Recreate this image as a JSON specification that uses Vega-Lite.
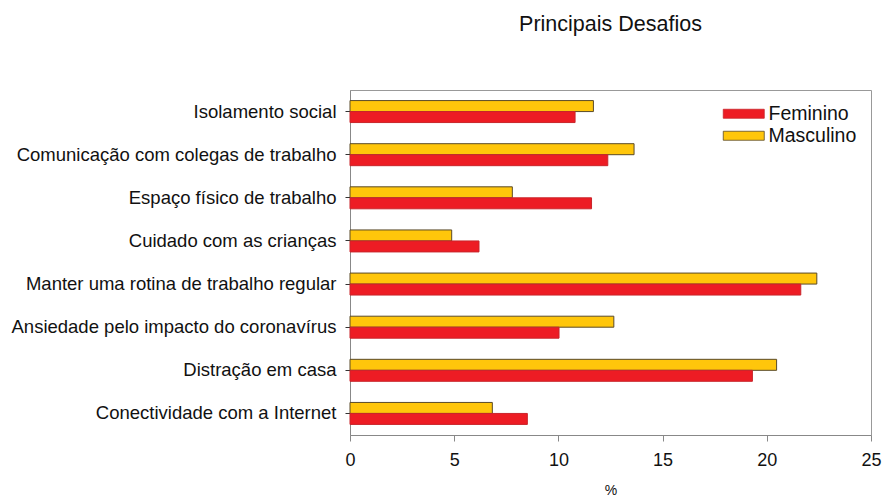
{
  "$schema": "https://vega.github.io/schema/vega-lite/v6.json",
  "autosize": "none",
  "width": 521,
  "height": 345,
  "padding": {"left": 350, "top": 90, "right": 12, "bottom": 64},
  "background": "white",
  "title": {
    "text": "Principais Desafios",
    "font": "Liberation Sans",
    "fontSize": 21.5,
    "fontWeight": "normal",
    "color": "#111",
    "anchor": "middle",
    "frame": "group",
    "offset": 55
  },
  "data": {
    "values": [
      {"desafio": "Isolamento social", "genero": "Masculino", "pct": 11.68},
      {"desafio": "Isolamento social", "genero": "Feminino", "pct": 10.8},
      {"desafio": "Comunicação com colegas de trabalho", "genero": "Masculino", "pct": 13.63},
      {"desafio": "Comunicação com colegas de trabalho", "genero": "Feminino", "pct": 12.37},
      {"desafio": "Espaço físico de trabalho", "genero": "Masculino", "pct": 7.79},
      {"desafio": "Espaço físico de trabalho", "genero": "Feminino", "pct": 11.59},
      {"desafio": "Cuidado com as crianças", "genero": "Masculino", "pct": 4.88},
      {"desafio": "Cuidado com as crianças", "genero": "Feminino", "pct": 6.19},
      {"desafio": "Manter uma rotina de trabalho regular", "genero": "Masculino", "pct": 22.4},
      {"desafio": "Manter uma rotina de trabalho regular", "genero": "Feminino", "pct": 21.63},
      {"desafio": "Ansiedade pelo impacto do coronavírus", "genero": "Masculino", "pct": 12.66},
      {"desafio": "Ansiedade pelo impacto do coronavírus", "genero": "Feminino", "pct": 10.03},
      {"desafio": "Distração em casa", "genero": "Masculino", "pct": 20.47},
      {"desafio": "Distração em casa", "genero": "Feminino", "pct": 19.31},
      {"desafio": "Conectividade com a Internet", "genero": "Masculino", "pct": 6.83},
      {"desafio": "Conectividade com a Internet", "genero": "Feminino", "pct": 8.51}
    ]
  },
  "mark": {"type": "bar", "strokeWidth": 1},
  "encoding": {
    "y": {
      "field": "desafio",
      "type": "nominal",
      "sort": null,
      "scale": {"paddingInner": 0.49, "paddingOuter": 0.245},
      "axis": {
        "title": null,
        "labelFont": "Liberation Sans",
        "labelFontSize": 18.5,
        "labelColor": "#111",
        "labelPadding": 9,
        "tickSize": 5,
        "tickColor": "#333",
        "domainColor": "#888",
        "labelLimit": 400
      }
    },
    "yOffset": {
      "field": "genero",
      "type": "nominal",
      "sort": ["Masculino", "Feminino"],
      "scale": {"paddingInner": 0, "paddingOuter": 0}
    },
    "x": {
      "field": "pct",
      "type": "quantitative",
      "scale": {"domain": [0, 25], "nice": false},
      "axis": {
        "title": "%",
        "titleFont": "Liberation Sans",
        "titleFontSize": 14,
        "titleFontWeight": "normal",
        "titleColor": "#111",
        "titlePadding": 14,
        "values": [0, 5, 10, 15, 20, 25],
        "grid": false,
        "labelFont": "Liberation Sans",
        "labelFontSize": 18,
        "labelColor": "#111",
        "labelPadding": 10,
        "tickSize": 6,
        "tickColor": "#888",
        "domainColor": "#888",
        "labelFlush": false
      }
    },
    "color": {
      "field": "genero",
      "type": "nominal",
      "scale": {"domain": ["Feminino", "Masculino"], "range": ["#ED1C24", "#FFC60B"]},
      "legend": {
        "title": null,
        "orient": "none",
        "legendX": 384,
        "legendY": 14,
        "symbolType": "M-4.1,-0.9H4.1V0.9H-4.1Z",
        "symbolSize": 100,
        "symbolStrokeWidth": 0.8,
        "symbolStrokeColor": "#7a6a50",
        "labelFont": "Liberation Sans",
        "labelFontSize": 19.5,
        "labelColor": "#111",
        "labelOffset": 15,
        "rowPadding": 1
      }
    },
    "stroke": {
      "field": "genero",
      "type": "nominal",
      "scale": {"domain": ["Feminino", "Masculino"], "range": ["#c9252b", "#5a4a28"]},
      "legend": null
    }
  },
  "config": {
    "view": {"stroke": "#999", "strokeWidth": 1}
  }
}
